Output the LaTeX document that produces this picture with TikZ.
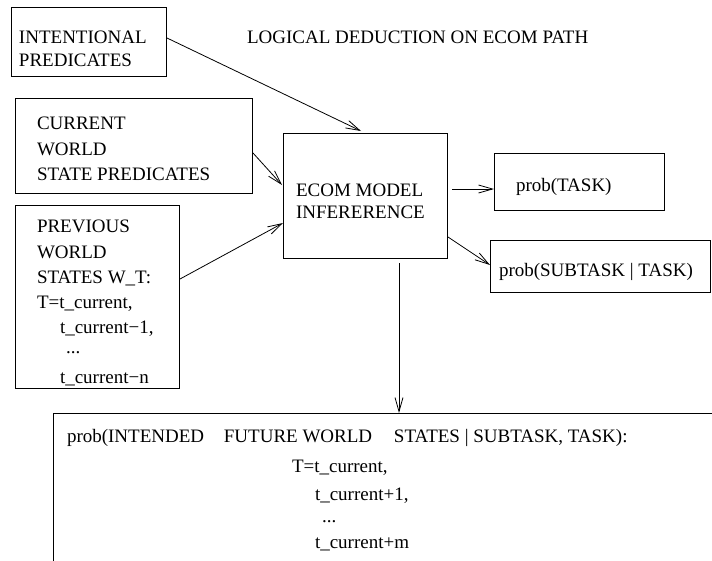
\documentclass[tikz,border=0pt]{standalone}
\usepackage{fontspec}
\setmainfont{Liberation Serif}
\usetikzlibrary{arrows.meta,calc}

\tikzset{
  box/.style={draw, line width=0.8pt, anchor=north west, inner sep=0pt, outer sep=0pt},
  txt/.style={anchor=base west, inner sep=0pt, outer sep=0pt, font=\fontsize{19}{23}\selectfont},
  link/.style={line width=0.8pt, -{Straight Barb[length=14pt,width=8pt,line width=0.8pt]}},
}

\begin{document}
\begin{tikzpicture}[x=1pt, y=-1pt]
  \clip (0,0) rectangle (712,560);

  % boxes
  \node[box, minimum width=155pt, minimum height=69pt]  (intent)  at (11,7)    {};
  \node[box, minimum width=237pt, minimum height=95pt]  (current) at (15,98)   {};
  \node[box, minimum width=164pt, minimum height=183pt] (prev)    at (15,205)  {};
  \node[box, minimum width=164pt, minimum height=125pt] (ecom)    at (283,133) {};
  \node[box, minimum width=170pt, minimum height=57pt]  (task)    at (494,153) {};
  \node[box, minimum width=220pt, minimum height=52pt]  (subtask) at (490,240) {};
  \node[box, minimum width=700pt, minimum height=200pt] (future)  at (53,413)  {};

  % heading
  \node[txt] (title) at (247,43) {LOGICAL DEDUCTION ON ECOM PATH};

  % box texts
  \node[txt] (intent1) at (19,43) {INTENTIONAL};
  \node[txt] (intent2) at (19,66) {PREDICATES};

  \node[txt] (cur1) at (37,129) {CURRENT};
  \node[txt] (cur2) at (37,155) {WORLD};
  \node[txt] (cur3) at (37,180) {STATE PREDICATES};

  \node[txt] (prev1) at (37,232) {PREVIOUS};
  \node[txt] (prev2) at (37,258) {WORLD};
  \node[txt] (prev3) at (37,283) {STATES W\_T:};
  \node[txt] (prev4) at (37,308) {T=t\_current,};
  \node[txt] (prev5) at (60,333) {t\_current−1,};
  \node[txt] (prev6) at (66,353) {...};
  \node[txt] (prev7) at (60,383) {t\_current−n};

  \node[txt] (ecom1) at (296,196) {ECOM MODEL};
  \node[txt] (ecom2) at (296,218) {INFERERENCE};

  \node[txt] (task1) at (516,191) {prob(TASK)};
  \node[txt] (sub1)  at (499,276) {prob(SUBTASK | TASK)};

  \node[txt] (fut1) at (67,442) {prob(INTENDED\hspace{15pt} FUTURE WORLD\hspace{17pt} STATES | SUBTASK, TASK):};
  \node[txt] (fut2) at (292,472) {T=t\_current,};
  \node[txt] (fut3) at (315,500) {t\_current+1,};
  \node[txt] (fut4) at (322,522) {...};
  \node[txt] (fut5) at (315,548) {t\_current+m};

  % connectors
  \draw[link] ($(intent.north east)+(1,31)$)  -- ($(ecom.north west)+(78,-2)$);
  \draw[link] ($(current.north east)+(1,55)$) -- ($(ecom.north west)+(-1,52)$);
  \draw[link] ($(prev.north east)+(1,74)$)    -- ($(ecom.north west)+(0,90)$);
  \draw[link] ($(ecom.north east)+(5,56)$)    -- ($(task.north west)+(0,36)$);
  \draw[link] ($(ecom.north east)+(1,104)$)   -- ($(subtask.north west)+(0,25)$);
  \draw[link] ($(ecom.south west)+(116,5)$)   -- ($(future.north west)+(346,0)$);
\end{tikzpicture}
\end{document}
